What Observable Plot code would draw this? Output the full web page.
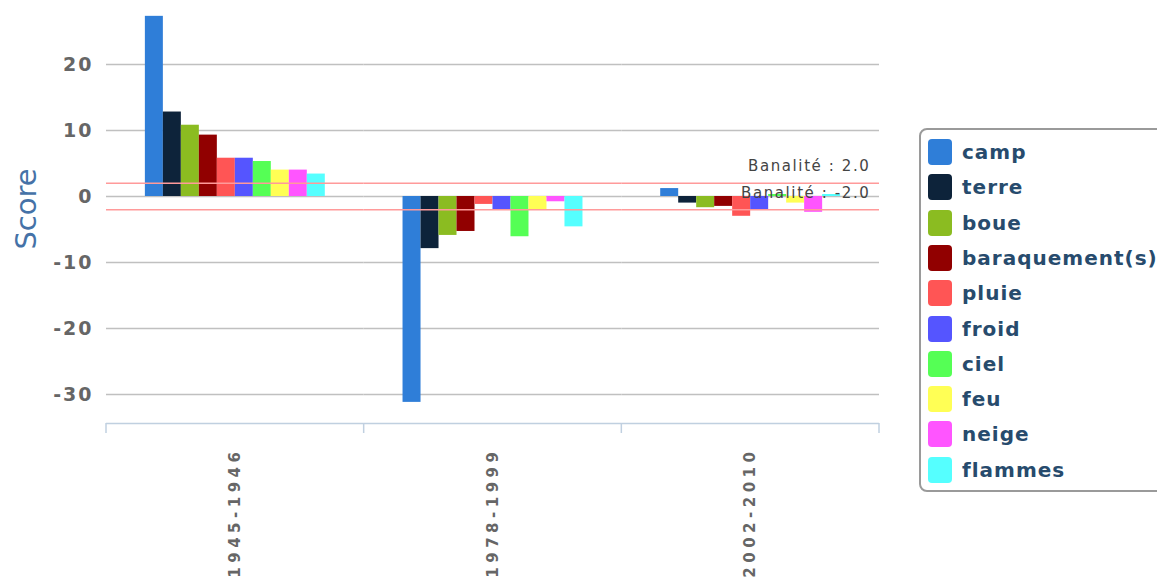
<!DOCTYPE html>
<html><head><meta charset="utf-8">
<script src="https://cdn.jsdelivr.net/npm/d3@7"></script>
<script src="https://cdn.jsdelivr.net/npm/@observablehq/plot@0.6"></script>
<style>
html,body{margin:0;padding:0;background:#fff;overflow:hidden;}
#wrap{position:relative;width:1157px;height:578px;overflow:hidden;}
#chart{position:absolute;left:0;top:0;}
#legend{position:absolute;left:919px;top:128px;width:260px;height:364px;border:2px solid #9a9a9a;border-radius:8px;background:#fff;box-sizing:border-box;}
.item{position:absolute;left:7px;height:26px;display:flex;align-items:center;white-space:nowrap;}
.sw{width:24px;height:26px;border-radius:4px;margin-right:10px;flex:none;}
.lab{font:bold 20px "DejaVu Sans";color:#274b6d;letter-spacing:1px;}
</style></head><body><div id="wrap"><div id="chart"></div><div id="legend"></div></div>
<script>
const periods = ["1945-1946","1978-1999","2002-2010"];
const words = ["camp","terre","boue","baraquement(s)","pluie","froid","ciel","feu","neige","flammes"];
const scores1945 = [27.3,12.8,10.8,9.3,5.8,5.8,5.3,4.0,4.0,3.4];
const scores1978 = [-31.2,-7.9,-5.9,-5.3,-1.2,-2.0,-6.1,-2.0,-0.8,-4.6];
const scores2002 = [1.2,-1.0,-1.7,-1.5,-3.0,-2.0,0.3,-1.0,-2.4,0.3];
const colors = ["#2f7ed8","#0d233a","#8bbc21","#910000","#ff5555","#5555ff","#55ff55","#ffff55","#ff55ff","#55ffff"];
const yTicks = [-30,-20,-10,0,10,20];
const yDomain = [-34.4, 29.7];
const banalite = [2,-2];
const banaliteLabels = ["Banalité : 2.0","Banalité : -2.0"];
const yTitle = "Score";

const rows = [];
[scores1945, scores1978, scores2002].forEach((arr, pi) =>
  arr.forEach((v, wi) => rows.push({period: periods[pi], word: words[wi], score: v})));

const plot = Plot.plot({
  width: 1157, height: 578,
  marginLeft: 106, marginRight: 278, marginTop: 0, marginBottom: 155,
  style: {fontFamily: "DejaVu Sans", background: "transparent", overflow: "visible"},
  fx: {domain: periods, padding: 0, round: false},
  x: {domain: words, paddingInner: 0, paddingOuter: 2.16, round: false, axis: null},
  y: {domain: yDomain},
  color: {domain: words, range: colors},
  marks: [
    Plot.ruleY(yTicks, {stroke: "#c0c0c0", strokeWidth: 1.5}),
    Plot.barY(rows, {fx: "period", x: "word", y: "score", fill: "word"}),
    Plot.ruleY(banalite, {stroke: "#ff9a9a", strokeWidth: 1.5}),
    Plot.text(banalite.map((v, i) => ({period: periods[periods.length - 1], v, t: banaliteLabels[i]})),
      {fx: "period", y: "v", text: "t", frameAnchor: "right", textAnchor: "end", dx: -9, dy: -17, fontSize: 15, fill: "#444"}),
    Plot.axisY(yTicks, {tickSize: 0, tickPadding: 13, fontSize: 19, fontWeight: "bold", fill: "#666", label: null, tickFormat: d => String(d)}),
    Plot.axisFx({anchor: "bottom", tickSize: 0, tickPadding: 24, tickRotate: -90, fontSize: 15, fontWeight: "bold", fill: "#666", label: null}),
    Plot.ruleY([yDomain[0]], {stroke: "#c0d0e0", strokeWidth: 1.5}),
    Plot.text([{period: periods[0], t: yTitle}],
      {fx: "period", text: "t", frameAnchor: "left", textAnchor: "middle", dx: -80, dy: -3, rotate: -90, fontSize: 29, fill: "#4572a7"})
  ]
});
document.getElementById("chart").appendChild(plot);

const svg = d3.select(plot);
svg.selectAll("text").each(function() {
  const t = this.textContent;
  if (periods.includes(t)) this.style.letterSpacing = "4.5px";
  if (t.startsWith("Banalité")) this.style.letterSpacing = "1.6px";
  if (yTicks.map(String).includes(t)) this.style.letterSpacing = "2px";
});
// category separators on the x axis, from the fx scale
const fx = plot.scale("fx"), ys = plot.scale("y");
const y0 = ys.apply(yDomain[0]);
const edges = periods.map(p => fx.apply(p));
edges.push(fx.apply(periods[periods.length - 1]) + fx.bandwidth);
svg.append("g").selectAll("line").data(edges).join("line")
  .attr("x1", d => d).attr("x2", d => d).attr("y1", y0).attr("y2", y0 + 10)
  .attr("stroke", "#c0d0e0").attr("stroke-width", 1.5);

// legend
const lg = document.getElementById("legend");
words.forEach((w, i) => {
  const it = document.createElement("div");
  it.className = "item";
  it.style.top = (9 + i * 35.3) + "px";
  it.innerHTML = `<div class="sw" style="background:${colors[i]}"></div><span class="lab">${w}</span>`;
  lg.appendChild(it);
});
</script></body></html>
